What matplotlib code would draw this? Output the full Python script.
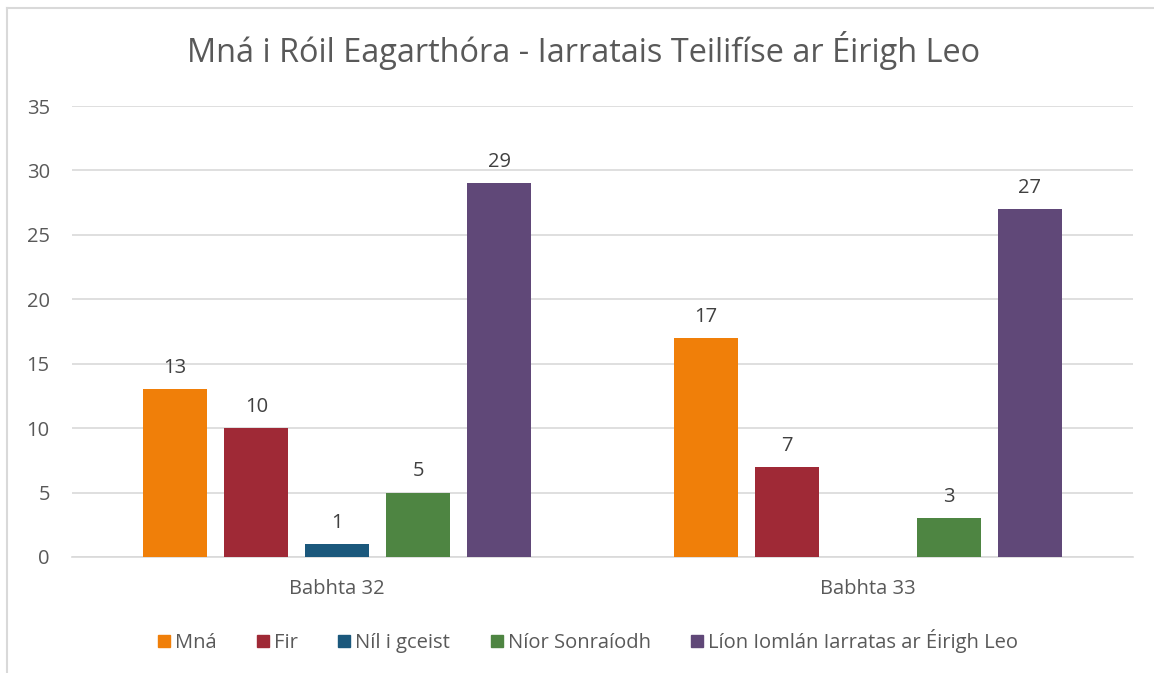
import matplotlib.pyplot as plt
from matplotlib.lines import Line2D
import numpy as np

# Data
rounds = ['Babhta 32', 'Babhta 33']
series = ['Mná', 'Fir', 'Níl i gceist', 'Níor Sonraíodh', 'Líon Iomlán Iarratas ar Éirigh Leo']
mna = [13, 17]
fir = [10, 7]
nil_i_gceist = [1, np.nan]
nior_sonraiodh = [5, 3]
lion_iomlan = [29, 27]
values = [mna, fir, nil_i_gceist, nior_sonraiodh, lion_iomlan]
colors = ['#F07F09', '#9F2936', '#1B587C', '#4E8542', '#604878']

plt.rcParams['font.family'] = ['Open Sans', 'DejaVu Sans']
txt = '#595959'

fig = plt.figure(figsize=(11.54, 6.73), dpi=100)
ax = fig.add_axes([72/1154, 1 - 557/673, 1061/1154, 451/673])

x = np.arange(len(rounds))
step = 0.1527
width = 0.1207
for i, (name, vals, c) in enumerate(zip(series, values, colors)):
    pos = x + (i - 2) * step
    ax.bar(pos, vals, width, color=c, label=name, zorder=3)
    for xp, v in zip(pos, vals):
        if not np.isnan(v):
            ax.annotate(str(int(v)), (xp, v), textcoords='offset points', xytext=(0, 8),
                        ha='center', va='bottom', fontsize=14.5, color='#404040')

ax.set_xlim(-0.5, 1.5)
ax.set_ylim(0, 35)
ax.set_yticks(range(0, 36, 5))
ax.set_xticks(x)
ax.set_xticklabels(rounds)
ax.grid(True, axis='y', color='#D9D9D9', linewidth=1.2, zorder=0)
for s in ['top', 'right', 'left']:
    ax.spines[s].set_visible(False)
ax.spines['bottom'].set_color('#D9D9D9')
ax.spines['bottom'].set_linewidth(1.2)
ax.tick_params(axis='both', length=0, labelsize=14.5, colors=txt)
ax.tick_params(axis='y', pad=16)
ax.tick_params(axis='x', pad=16)

fig.suptitle('Mná i Róil Eagarthóra - Iarratais Teilifíse ar Éirigh Leo',
             x=584/1154, y=1 - 50/673, va='center', fontsize=23.4, color=txt)

handles = [plt.Rectangle((0, 0), 1, 1, color=c) for c in colors]
fig.legend(handles, series, loc='center', bbox_to_anchor=(588/1154, 1 - 641/673), ncol=5,
           frameon=False, fontsize=14.5, labelcolor=txt, handlelength=0.6, handleheight=0.6,
           handletextpad=0.25, columnspacing=2.0)

# chart border
fig.add_artist(Line2D([7/1154, 1], [1 - 8/673, 1 - 8/673], color='#D9D9D9', linewidth=1.5))
fig.add_artist(Line2D([7/1154, 7/1154], [0, 1 - 8/673], color='#D9D9D9', linewidth=1.5))

fig.savefig('out.png', dpi=100)
